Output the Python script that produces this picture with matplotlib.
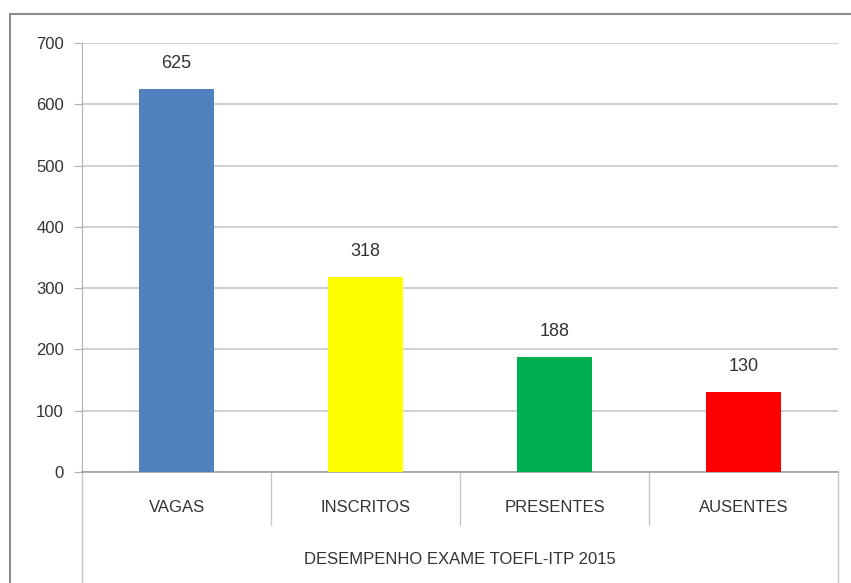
import matplotlib.pyplot as plt
from matplotlib.patches import Rectangle

# dados
categorias = ["VAGAS", "INSCRITOS", "PRESENTES", "AUSENTES"]
valores = [625, 318, 188, 130]
cores = ["#4F81BD", "#FFFF00", "#00B050", "#FF0000"]
grupo = "DESEMPENHO EXAME TOEFL-ITP 2015"

W, H = 851, 583
fig = plt.figure(figsize=(W / 100, H / 100), dpi=100)
plt.rcParams['font.family'] = ['Liberation Sans', 'DejaVu Sans']

# moldura externa
fig.patches.append(Rectangle((10 / W, -0.05), 1.05, (583 - 14) / H + 0.05,
                             transform=fig.transFigure, fill=False,
                             edgecolor="#8c8c8c", linewidth=1.5))

ax = fig.add_axes([82 / W, (H - 472) / H, (838 - 82) / W, (472 - 43) / H])
x = range(len(categorias))
ax.bar(x, valores, width=0.4, color=cores, zorder=3)

for xi, v in zip(x, valores):
    ax.text(xi, v + 28, str(v), ha='center', va='bottom', fontsize=13, color='#333333')

ax.set_xlim(-0.5, len(categorias) - 0.5)
ax.set_ylim(0, 700)
ax.set_yticks(range(0, 701, 100))
ax.tick_params(axis='y', length=6, color='#b0b0b0', labelsize=12, labelcolor='#333333', pad=7)
ax.grid(axis='y', color='#c8c8c8', linewidth=1.2, zorder=0)
ax.set_xticks([])
for s in ['top', 'right']:
    ax.spines[s].set_visible(False)
ax.spines['left'].set_color('#b0b0b0')
ax.spines['bottom'].set_color('#a0a0a0')
ax.spines['bottom'].set_linewidth(1.2)

# rótulos das categorias e divisórias
alt = 429.0
for xi, c in zip(x, categorias):
    ax.text(xi, -35 / alt, c, transform=ax.get_xaxis_transform(), ha='center', va='center',
            fontsize=12, color='#333333')
for b in range(len(categorias) + 1):
    fundo = -53 / alt if 0 < b < len(categorias) else -115 / alt
    ax.plot([b - 0.5, b - 0.5], [0, fundo], transform=ax.get_xaxis_transform(),
            color='#c8c8c8', linewidth=1, clip_on=False)
ax.text(1.5, -87 / alt, grupo, transform=ax.get_xaxis_transform(), ha='center', va='center',
        fontsize=12, color='#333333')

fig.savefig("out.png", dpi=100)
